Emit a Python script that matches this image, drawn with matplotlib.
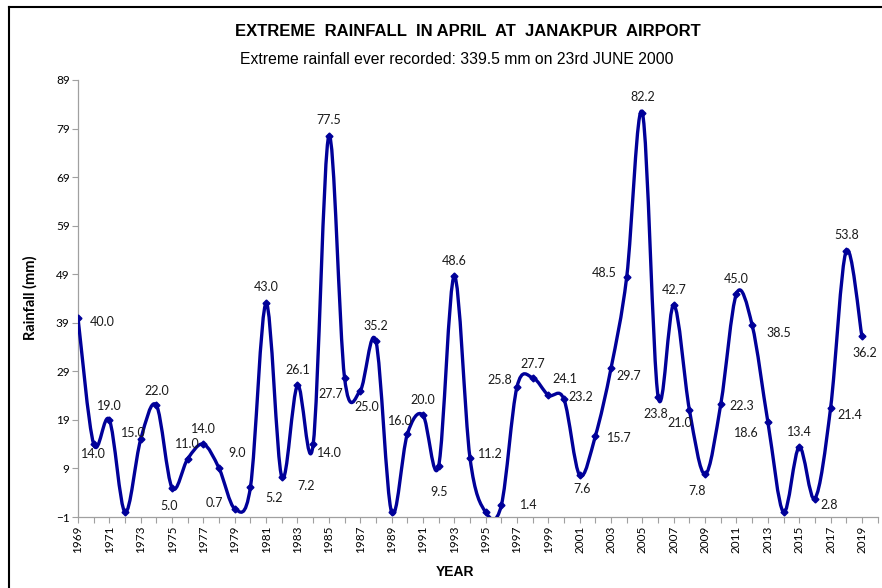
import matplotlib
matplotlib.use("Agg")
import matplotlib.pyplot as plt
from matplotlib.path import Path
from matplotlib.patches import PathPatch
from matplotlib.lines import Line2D
import numpy as np

years = list(range(1969, 2020))
rain = [40.0, 14.0, 19.0, 0.0, 15.0, 22.0, 5.0, 11.0, 14.0, 9.0,
        0.7, 5.2, 43.0, 7.2, 26.1, 14.0, 77.5, 27.7, 25.0, 35.2,
        0.0, 16.0, 20.0, 9.5, 48.6, 11.2, 0.0, 1.4, 25.8, 27.7,
        24.1, 23.2, 7.6, 15.7, 29.7, 48.5, 82.2, 23.8, 42.7, 21.0,
        7.8, 22.3, 45.0, 38.5, 18.6, 0.0, 13.4, 2.8, 21.4, 53.8, 36.2]
# years with no label shown on the chart
no_label = [1972, 1989, 1995, 2014]

# label offsets in pixels (dx right, dy down) from each marker
label_off = {
    1969: (24, 4), 1970: (0, 10), 1971: (0, -14), 1973: (-7, -6), 1974: (0, -14),
    1975: (-3, 18), 1976: (0, -15), 1977: (0, -15), 1978: (18, -15), 1979: (-20, -6),
    1980: (24, 11), 1981: (0, -16), 1982: (24, 9), 1983: (0, -15), 1984: (16, 9),
    1985: (0, -16), 1986: (-14, 16), 1987: (7, 16), 1988: (0, -15), 1990: (-7, -13),
    1991: (0, -15), 1992: (1, 26), 1993: (0, -15), 1994: (20, -4), 1996: (27, 0),
    1997: (-17, -7), 1998: (0, -14), 1999: (16, -16), 2000: (17, -2), 2001: (2, 14),
    2002: (24, 2), 2003: (18, 8), 2004: (-23, -4), 2005: (0, -16), 2006: (-2, 17),
    2007: (0, -15), 2008: (-10, 13), 2009: (-8, 17), 2010: (21, 2), 2011: (0, -15),
    2012: (27, 8), 2013: (-22, 11), 2015: (0, -15), 2016: (14, 6), 2017: (19, 7),
    2018: (0, -16), 2019: (3, 17),
}

navy = "#000099"
lab_font = "Lato"

fig = plt.figure(figsize=(8.82, 5.88), dpi=100)
ax = fig.add_axes([78 / 882, 1 - 517 / 588, (877.6 - 78) / 882, (517 - 80) / 588])

# smoothed line (Excel-style bezier through the points)
x = np.array(years, dtype=float)
y = np.array(rain, dtype=float)
verts = [(x[0], y[0])]
codes = [Path.MOVETO]
n = len(x)
for i in range(n - 1):
    p0 = max(i - 1, 0)
    p3 = min(i + 2, n - 1)
    c1 = (x[i] + (x[i + 1] - x[p0]) / 6, y[i] + (y[i + 1] - y[p0]) / 6)
    c2 = (x[i + 1] - (x[p3] - x[i]) / 6, y[i + 1] - (y[p3] - y[i]) / 6)
    verts += [c1, c2, (x[i + 1], y[i + 1])]
    codes += [Path.CURVE4] * 3
ax.add_patch(PathPatch(Path(verts, codes), facecolor="none", edgecolor=navy,
                       lw=2.4, capstyle="round", joinstyle="round", zorder=3))
ax.plot(years, rain, linestyle="none", marker="D", ms=3.5, color=navy, zorder=4)

for yr, v in zip(years, rain):
    if yr in no_label:
        continue
    dx, dy = label_off[yr]
    ax.annotate(f"{v:.1f}", (yr, v), xytext=(dx * 0.72, -dy * 0.72),
                textcoords="offset points", ha="center", va="center",
                fontsize=9, family=lab_font, color="#1a1a1a", zorder=5)

ax.set_xlim(1969, 2020)
ax.set_ylim(-1, 89)
ax.set_yticks(np.arange(-1, 90, 10))
ax.set_xticks(range(1969, 2021))
ax.set_xticklabels([str(t) if t % 2 == 1 and t < 2020 else "" for t in range(1969, 2021)],
                   rotation=90, family=lab_font, fontsize=8.5)
for t in ax.get_yticklabels():
    t.set_family(lab_font)
    t.set_fontsize(8.5)
ax.tick_params(axis="both", color="#a0a0a0", length=4, width=0.8, pad=2)
for s in ["top", "right"]:
    ax.spines[s].set_visible(False)
for s in ["left", "bottom"]:
    ax.spines[s].set_color("#a0a0a0")
    ax.spines[s].set_linewidth(0.9)

fig.text(30 / 882, 1 - 298 / 588, "Rainfall (mm)", rotation=90, ha="center", va="center",
         fontsize=10.5, fontweight="bold", family=lab_font)
fig.text(455 / 882, 1 - 572 / 588, "YEAR", ha="center", va="center",
         fontsize=10, fontweight="bold", family="Liberation Sans")

narrow = ["Liberation Sans Narrow", "Liberation Sans"]
fig.text(468 / 882, 1 - 31 / 588, "EXTREME  RAINFALL  IN APRIL  AT  JANAKPUR  AIRPORT",
         ha="center", va="center", fontsize=12, fontweight="bold", family=narrow)
fig.text(457 / 882, 1 - 60 / 588, "Extreme rainfall ever recorded: 339.5 mm on 23rd JUNE 2000",
         ha="center", va="center", fontsize=11.3, family=narrow)

# chart border (cropped on right and bottom)
fig.add_artist(Line2D([9 / 882, 1], [1 - 7 / 588] * 2, color="black", lw=1.5))
fig.add_artist(Line2D([9 / 882] * 2, [0, 1 - 7 / 588], color="black", lw=1.5))

fig.savefig("out.png", dpi=100)
